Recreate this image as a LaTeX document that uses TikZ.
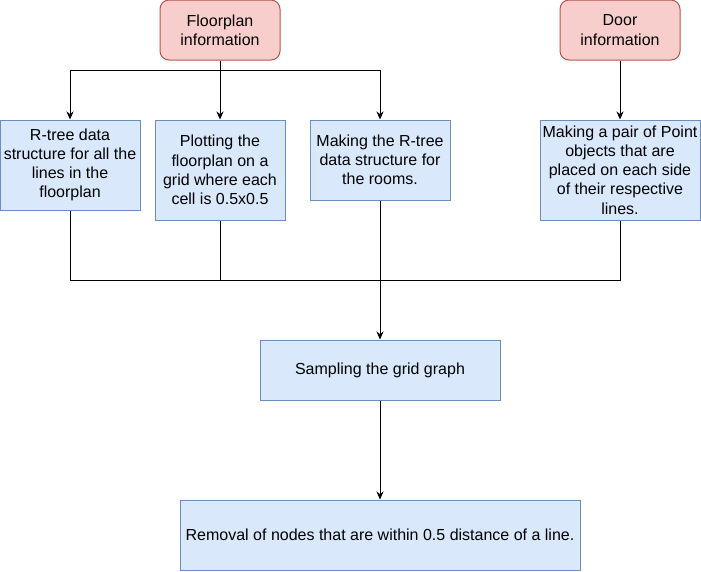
\documentclass[tikz,border=0pt]{standalone}
\usepackage{fontspec}
\setmainfont{Liberation Sans}
\usetikzlibrary{arrows.meta}
\definecolor{srcfill}{HTML}{F8CECC}
\definecolor{srcline}{HTML}{B85450}
\definecolor{boxfill}{HTML}{DAE8FC}
\definecolor{boxline}{HTML}{6C8EBF}
\begin{document}
\begin{tikzpicture}[x=1pt,y=-1pt,
  txt/.style={align=center, inner sep=0pt, font=\fontsize{16}{19.2}\selectfont},
  src/.style={txt, draw=srcline, fill=srcfill, rounded corners=9pt, line width=1pt, minimum width=120pt, minimum height=60pt},
  box/.style={txt, draw=boxline, fill=boxfill, line width=1pt},
  conn/.style={line width=1pt, draw=black},
  arr/.style={conn, -{Stealth[length=8pt,width=7pt]}}]
\useasboundingbox (0,0) rectangle (701,571);

\node[src] (fp) at (220,30) {Floorplan\\information};
\node[src] (door) at (620,30) {Door\\information};

\node[box, minimum width=140pt, minimum height=90pt] (b1) at (70,165)
  {R-tree data\\structure for all the\\lines in the\\floorplan};
\node[box, minimum width=130pt, minimum height=100pt] (b2) at (220,170)
  {Plotting the\\floorplan on a\\grid where each\\cell is 0.5x0.5};
\node[box, minimum width=140pt, minimum height=80pt] (b3) at (380,160)
  {Making the R-tree\\data structure for\\the rooms.};
\node[box, minimum width=160pt, minimum height=100pt] (b4) at (620,170)
  {Making a pair of Point\\objects that are\\placed on each side\\of their respective\\lines.};

\node[box, minimum width=240pt, minimum height=60pt] (samp) at (380,370)
  {Sampling the grid graph};
\node[box, minimum width=400pt, minimum height=70pt] (rem) at (380,535)
  {Removal of nodes that are within 0.5 distance of a line.};

\coordinate (split) at (220,70);
\coordinate (merge) at (380,280);

\draw[conn] (fp.south) -- (split);
\draw[arr] (split) -| (b1.north);
\draw[arr] (split) -- (b2.north);
\draw[arr] (split) -| (b3.north);
\draw[arr] (door.south) -- (b4.north);

\draw[conn] (b1.south) |- (merge);
\draw[conn] (b2.south) |- (merge);
\draw[conn] (b4.south) |- (merge);
\draw[arr] (b3.south) -- (samp.north);
\draw[arr] (samp.south) -- (rem.north);
\end{tikzpicture}
\end{document}
